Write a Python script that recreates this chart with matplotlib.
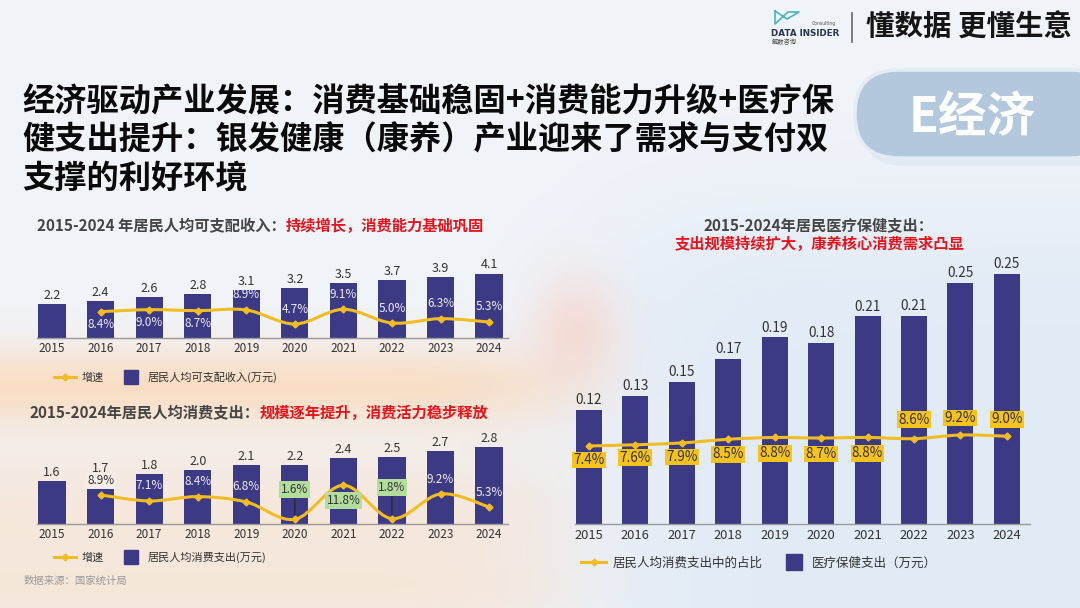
import numpy as np
import matplotlib
matplotlib.use('Agg')
import matplotlib.pyplot as plt
from matplotlib.path import Path
from matplotlib.patches import PathPatch, FancyBboxPatch
from matplotlib.lines import Line2D

plt.rcParams['font.family'] = ['Noto Sans CJK SC', 'DejaVu Sans']

# ---------------- data ----------------
years = ['2015', '2016', '2017', '2018', '2019', '2020', '2021', '2022', '2023', '2024']
growth_years = years[1:]

income = [2.1966, 2.3821, 2.5974, 2.8228, 3.0733, 3.2189, 3.5128, 3.6883, 3.9218, 4.1314]
income_labels = ['2.2', '2.4', '2.6', '2.8', '3.1', '3.2', '3.5', '3.7', '3.9', '4.1']
income_growth = [8.4, 9.0, 8.7, 8.9, 4.7, 9.1, 5.0, 6.3, 5.3]

consumption = [1.5712, 1.7111, 1.8322, 1.9853, 2.1559, 2.1590, 2.4100, 2.4538, 2.6796, 2.8227]
consumption_labels = ['1.6', '1.7', '1.8', '2.0', '2.1', '2.2', '2.4', '2.5', '2.7', '2.8']
consumption_growth = [8.9, 7.1, 8.4, 6.8, 1.6, 11.8, 1.8, 9.2, 5.3]

health = [0.1165, 0.1307, 0.1451, 0.1685, 0.1902, 0.1843, 0.2115, 0.2120, 0.2460, 0.2547]
health_labels = ['0.12', '0.13', '0.15', '0.17', '0.19', '0.18', '0.21', '0.21', '0.25', '0.25']
health_share = [7.4, 7.6, 7.9, 8.5, 8.8, 8.7, 8.8, 8.6, 9.2, 9.0]

# ---------------- style ----------------
W, H = 1080, 608
BAR = '#3d3a85'
LINE = '#f2bd22'
DARK = '#3a3a3a'
RED = '#e8141c'
PX = 0.72  # points per pixel at dpi 100

fig = plt.figure(figsize=(W / 100, H / 100), dpi=100)

# background
bg = fig.add_axes([0, 0, 1, 1], zorder=-10)
yy, xx = np.mgrid[0:H, 0:W].astype(float)
base = np.array([0.945, 0.955, 0.975])
img = np.ones((H, W, 3)) * base
warm = np.array([0.99, 0.84, 0.70])
left_fade = 1 / (1 + np.exp((xx - 560) / 35))
w_warm = (0.7 * np.exp(-((yy - 385) / 40) ** 2) + 0.42 * np.exp(-((yy - 520) / 80) ** 2)) * left_fade
w_warm += 0.25 * np.exp(-((yy - 600) / 40) ** 2) * left_fade
w_warm = np.clip(w_warm, 0, 0.85)[..., None]
img = img * (1 - w_warm) + warm * w_warm
blue = np.array([0.84, 0.90, 0.96])
w_blue = (0.6 / (1 + np.exp(-(xx - 620) / 50)) / (1 + np.exp(-(yy - 220) / 40)))[..., None]
img = img * (1 - w_blue) + blue * w_blue
pink = np.array([0.98, 0.80, 0.74])
w_pink = (0.55 * np.exp(-((xx - 575) / 45) ** 2 - ((yy - 330) / 55) ** 2))[..., None]
img = img * (1 - w_pink) + pink * w_pink
bg.imshow(np.clip(img, 0, 1), extent=[0, W, H, 0], aspect='auto')
bg.set_xlim(0, W)
bg.set_ylim(H, 0)
bg.axis('off')

# header
bg.plot([775, 787, 799, 788, 775, 775], [11, 19, 12, 12, 24, 11], color='#4bb6c4', lw=1.2)
bg.text(771, 33, 'DATA INSIDER', fontsize=6.3, fontweight='bold', color='#2b3450',
        va='center', ha='left', family=['DejaVu Sans'])
bg.text(836, 23, 'Consulting', fontsize=3.3, color='#555', va='center', ha='right',
        family=['DejaVu Sans'])
bg.text(772, 42, '解数咨询', fontsize=4.5, color='#444', va='center', ha='left')
bg.plot([852, 852], [13, 42], color='#666', lw=1.2)
bg.text(866, 28, '懂数据 更懂生意', fontsize=20.5, fontweight='bold', color='#151515',
        va='center', ha='left')

# pill
bg.add_patch(FancyBboxPatch((860, 76), 260, 90, boxstyle='round,pad=0,rounding_size=45',
                            fc='#dfe7f1', ec='none', alpha=0.8))
bg.add_patch(FancyBboxPatch((855, 70), 260, 88, boxstyle='round,pad=0,rounding_size=44',
                            fc='#b3c7dd', ec='#e3ebf4', lw=2.5))
bg.text(972, 118, 'E经济', fontsize=35, fontweight='bold', color='white', va='center', ha='center')

# main title
title_lines = ['经济驱动产业发展：消费基础稳固+消费能力升级+医疗保',
               '健支出提升：银发健康（康养）产业迎来了需求与支付双',
               '支撑的利好环境']
for i, t in enumerate(title_lines):
    bg.text(22, 102 + 38 * i, t, fontsize=23.2, fontweight='bold', color='#0a0a0a',
            va='center', ha='left')

renderer = fig.canvas.get_renderer()


def two_color_title(x, y, part1, part2, size=11):
    t1 = bg.text(x, y, part1, fontsize=size, fontweight='bold', color='#454545', va='center', ha='left')
    w = t1.get_window_extent(renderer=renderer).width
    bg.text(x + w, y, part2, fontsize=size, fontweight='bold', color=RED, va='center', ha='left')


def axes_px(left, top, right, bottom):
    return fig.add_axes([left / W, 1 - bottom / H, (right - left) / W, (bottom - top) / H])


def smooth_path(xs, ys):
    xs = np.asarray(xs, float)
    ys = np.asarray(ys, float)
    px = np.concatenate([[xs[0]], xs, [xs[-1]]])
    py = np.concatenate([[ys[0]], ys, [ys[-1]]])
    verts = [(xs[0], ys[0])]
    codes = [Path.MOVETO]
    for i in range(1, len(px) - 2):
        c1 = (px[i] + (px[i + 1] - px[i - 1]) / 6, py[i] + (py[i + 1] - py[i - 1]) / 6)
        c2 = (px[i + 1] - (px[i + 2] - px[i]) / 6, py[i + 1] - (py[i + 2] - py[i]) / 6)
        verts += [c1, c2, (px[i + 1], py[i + 1])]
        codes += [Path.CURVE4] * 3
    return Path(verts, codes)


def style_axis(ax, xlim, ylim, pad, tsize):
    ax.set_xlim(*xlim)
    ax.set_ylim(*ylim)
    for s in ['left', 'right', 'top']:
        ax.spines[s].set_visible(False)
    ax.spines['bottom'].set_color('#9a9a9a')
    ax.spines['bottom'].set_linewidth(1.0)
    ax.set_yticks([])
    ax.set_xticks(np.arange(len(years)), years)
    ax.tick_params(axis='x', length=0, labelsize=tsize, colors='#333333', pad=pad)
    ax.patch.set_alpha(0)


def line_layer(ax, xs, vals, y2lim):
    ax2 = ax.twinx()
    ax2.set_ylim(*y2lim)
    ax2.axis('off')
    ax2.add_patch(PathPatch(smooth_path(xs, vals), fill=False, ec=LINE, lw=2.2, zorder=3))
    ax2.plot(xs, vals, ls='none', marker='D', ms=3.5, color=LINE, zorder=4)
    return ax2


# ---------------- chart 1: income ----------------
two_color_title(37, 226, '2015-2024 年居民人均可支配收入：', '持续增长，消费能力基础巩固')
ax = axes_px(37, 258, 508, 338)
x = np.arange(len(years))
ax.bar(x, income, width=0.56, color=BAR, zorder=2)
style_axis(ax, (-0.31, 9.39), (0, 80 / 15.6), 3, 8.5)
for i, v in enumerate(income):
    ax.annotate(income_labels[i], (x[i], v), xytext=(0, 1.5), textcoords='offset points',
                ha='center', va='bottom', fontsize=9, color='#333333')
ax2 = line_layer(ax, x[1:], income_growth, (0.51, 24.46))
inc_dy = [-13, -13, -13, 15, 15, 15, 15, 15, 15]
for i, v in enumerate(income_growth):
    ax2.annotate(f'{v:.1f}%', (x[i + 1], v), xytext=(0, inc_dy[i] * PX), textcoords='offset points',
                 ha='center', va='center', fontsize=8.5, color='#eeeaf8', zorder=5)
handles = [Line2D([], [], color=LINE, lw=2.2, marker='D', ms=3.5),
           Line2D([], [], color=BAR, marker='s', ls='none', ms=9.5)]
ax.legend(handles, ['增速', '居民人均可支配收入(万元)'], loc='center left',
          bbox_to_anchor=(54 / W, 1 - 377 / H), bbox_transform=fig.transFigure, ncol=2,
          frameon=False, fontsize=8, handlelength=2.0, handletextpad=0.5, columnspacing=1.4,
          borderaxespad=0, borderpad=0, labelcolor='#333333')

# ---------------- chart 2: consumption ----------------
two_color_title(30, 413, '2015-2024年居民人均消费支出：', '规模逐年提升，消费活力稳步释放')
ax = axes_px(37, 444, 508, 524)
ax.bar(x, consumption, width=0.56, color=BAR, zorder=2)
style_axis(ax, (-0.31, 9.39), (0, 80 / 27.2), 3, 8.5)
for i, v in enumerate(consumption):
    ax.annotate(consumption_labels[i], (x[i], v), xytext=(0, 1.5), textcoords='offset points',
                ha='center', va='bottom', fontsize=9, color='#333333')
ax2 = line_layer(ax, x[1:], consumption_growth, (0.18, 24.2))
con_dy = [14, 15, 15, 15, 30, -15, 31, 14, 14]
con_color = ['#333333', '#eeeaf8', '#eeeaf8', '#eeeaf8', '#333333', '#333333', '#333333', '#eeeaf8', '#eeeaf8']
con_box = [None, None, None, None, '#b3dd9c', '#b3dd9c', '#b3dd9c', None, None]
con_box[0] = '#f6ede8'
for i, v in enumerate(consumption_growth):
    kw = {}
    if con_box[i]:
        kw['bbox'] = dict(boxstyle='square,pad=0.15', fc=con_box[i], ec='none')
    if con_dy[i] > 20:
        kw['arrowprops'] = dict(arrowstyle='-', color='#222222', lw=0.8, shrinkA=0, shrinkB=3)
    ax2.annotate(f'{v:.1f}%', (x[i + 1], v), xytext=(0, con_dy[i] * PX), textcoords='offset points',
                 ha='center', va='center', fontsize=8.5, color=con_color[i], zorder=5, **kw)
handles = [Line2D([], [], color=LINE, lw=2.2, marker='D', ms=3.5),
           Line2D([], [], color=BAR, marker='s', ls='none', ms=9.5)]
ax.legend(handles, ['增速', '居民人均消费支出(万元)'], loc='center left',
          bbox_to_anchor=(54 / W, 1 - 557 / H), bbox_transform=fig.transFigure, ncol=2,
          frameon=False, fontsize=8, handlelength=2.0, handletextpad=0.5, columnspacing=1.4,
          borderaxespad=0, borderpad=0, labelcolor='#333333')
bg.text(24, 581, '数据来源：国家统计局', fontsize=7.5, color='#9a9a9a', va='center', ha='left')

# ---------------- chart 3: health ----------------
bg.text(818, 225, '2015-2024年居民医疗保健支出：', fontsize=11, fontweight='bold', color='#454545',
        va='center', ha='center')
bg.text(820, 244, '支出规模持续扩大，康养核心消费需求凸显', fontsize=11, fontweight='bold', color=RED,
        va='center', ha='center')
ax = axes_px(575, 260, 1030, 524)
ax.bar(x, health, width=0.56, color=BAR, zorder=2)
style_axis(ax, (-0.30, 9.50), (0, 264 / 981.5), 3.5, 9.3)
for i, v in enumerate(health):
    ax.annotate(health_labels[i], (x[i], v), xytext=(0, 2), textcoords='offset points',
                ha='center', va='bottom', fontsize=9.8, color='#333333')
ax2 = line_layer(ax, x, health_share, (-5.39, 37.89))
hs_dy = [-14, -13, -14, -15, -16, -16, -16, 19, 17, 17]
for i, v in enumerate(health_share):
    ax2.annotate(f'{v:.1f}%', (x[i], v), xytext=(0, hs_dy[i] * PX), textcoords='offset points',
                 ha='center', va='center', fontsize=9.8, color='#333333', zorder=5,
                 bbox=dict(boxstyle='square,pad=0.1', fc='#f6c21c', ec='none'))
handles = [Line2D([], [], color=LINE, lw=2.2, marker='D', ms=3.5),
           Line2D([], [], color=BAR, marker='s', ls='none', ms=12)]
ax.legend(handles, ['居民人均消费支出中的占比', '医疗保健支出（万元）'], loc='center left',
          bbox_to_anchor=(581 / W, 1 - 563 / H), bbox_transform=fig.transFigure, ncol=2,
          frameon=False, fontsize=9, handlelength=2.0, handletextpad=0.5, columnspacing=1.5,
          borderaxespad=0, borderpad=0, labelcolor='#333333')

fig.savefig('out.png', dpi=100)
